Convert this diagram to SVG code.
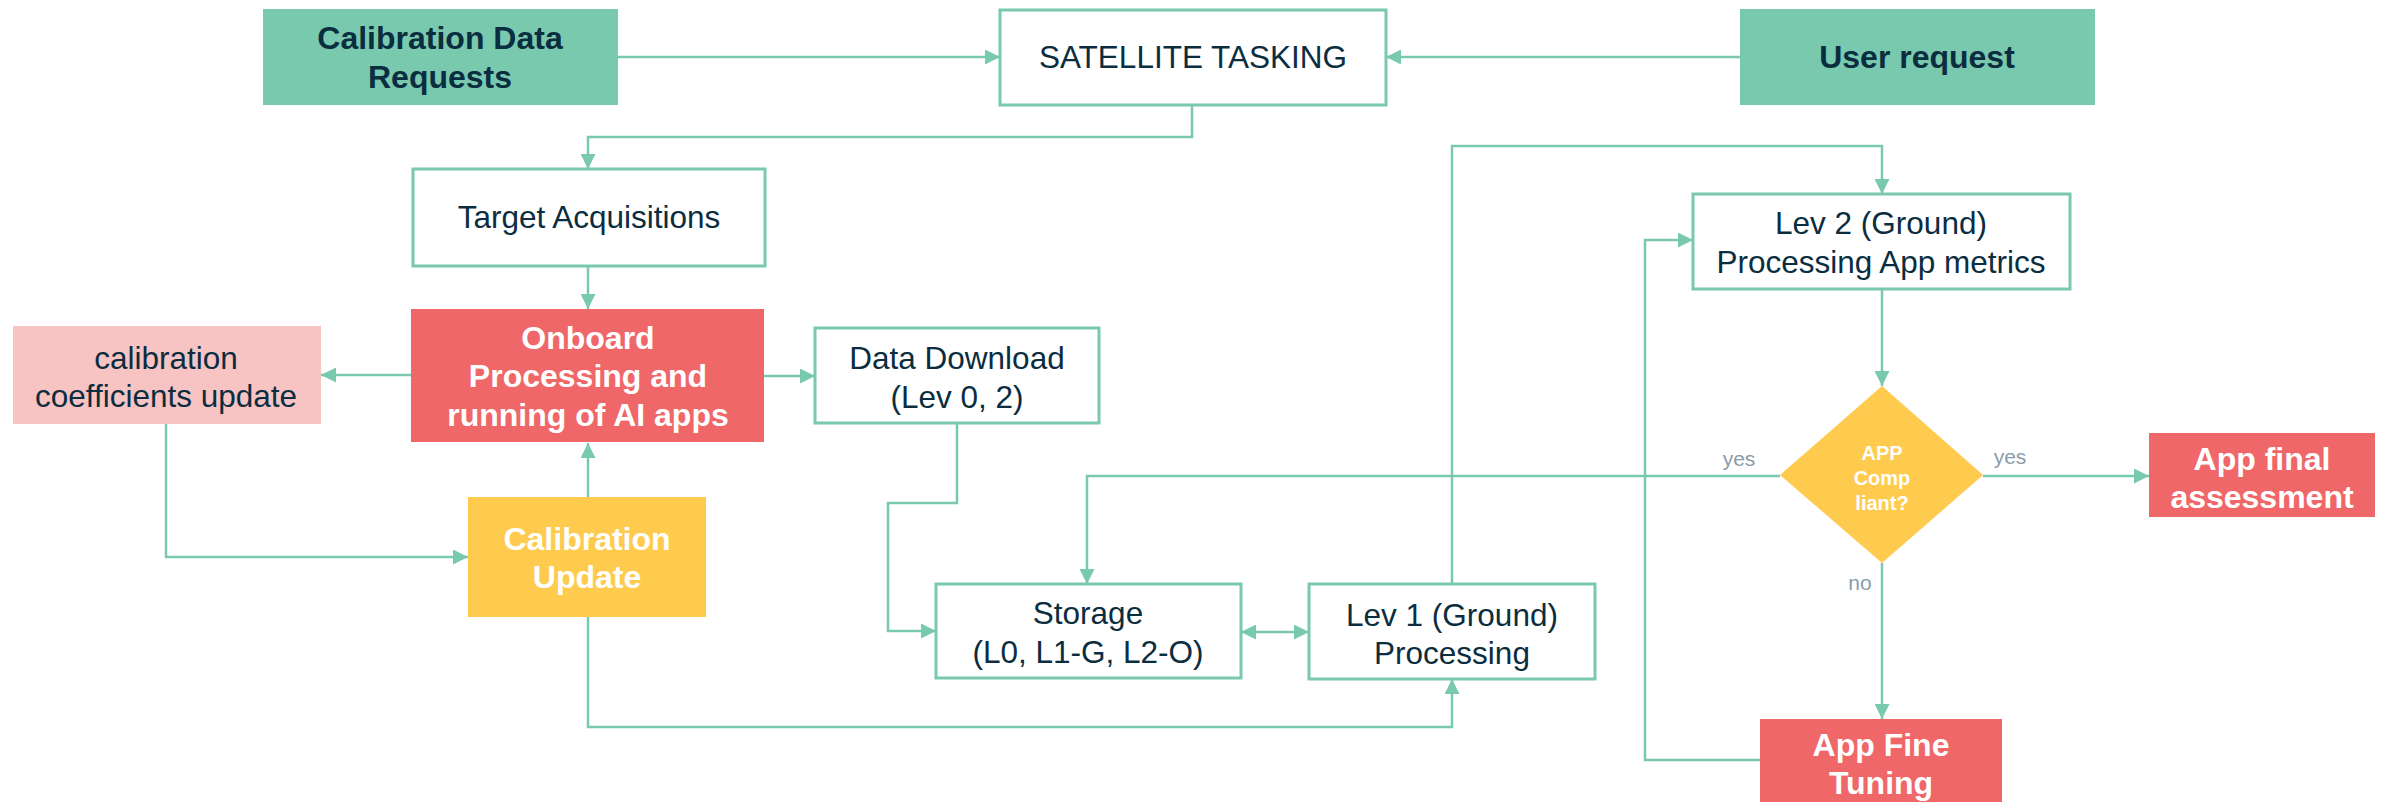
<svg xmlns="http://www.w3.org/2000/svg" width="2385" height="802" viewBox="0 0 2385 802">
<defs>
<marker id="arr" viewBox="0 0 10 10" refX="10" refY="5" markerWidth="15" markerHeight="15" markerUnits="userSpaceOnUse" orient="auto-start-reverse">
<path d="M0,0 L10,5 L0,10 z" fill="#79C9AF"/>
</marker>
<style>
.box{fill:#fff;stroke:#79C9AF;stroke-width:3}
.teal{fill:#79C9AF}
.red{fill:#F06769}
.pink{fill:#F8C3C3}
.yel{fill:#FFCB4E}
.t{font-family:"Liberation Sans",Arial,sans-serif;font-size:31.5px;fill:#0B2D40;text-anchor:middle}
.b{font-weight:bold;font-size:32px}
.w{fill:#fff}
.d{font-family:"Liberation Sans",Arial,sans-serif;font-size:20px;font-weight:bold;fill:#fff;text-anchor:middle}
.lbl{font-family:"Liberation Sans",Arial,sans-serif;font-size:21px;fill:#8A9BAA;text-anchor:middle}
.c{fill:none;stroke:#79C9AF;stroke-width:2.5}
</style>
</defs>
<rect width="2385" height="802" fill="#fff"/>
<g id="connectors">
<path class="c" d="M618,57 H1000" marker-end="url(#arr)"/>
<path class="c" d="M1740,57 H1386" marker-end="url(#arr)"/>
<path class="c" d="M1192,105 V137 H588 V169" marker-end="url(#arr)"/>
<path class="c" d="M588,266 V309" marker-end="url(#arr)"/>
<path class="c" d="M411,375 H321" marker-end="url(#arr)"/>
<path class="c" d="M764,376 H815" marker-end="url(#arr)"/>
<path class="c" d="M588,497 V443" marker-end="url(#arr)"/>
<path class="c" d="M166,424 V557 H468" marker-end="url(#arr)"/>
<path class="c" d="M957,423 V503 H888 V631 H936" marker-end="url(#arr)"/>
<path class="c" d="M1241,632 H1309" marker-start="url(#arr)" marker-end="url(#arr)"/>
<path class="c" d="M588,617 V727 H1452 V679" marker-end="url(#arr)"/>
<path class="c" d="M1452,584 V146 H1882 V194" marker-end="url(#arr)"/>
<path class="c" d="M1882,289 V386" marker-end="url(#arr)"/>
<path class="c" d="M1780,476 H1087 V584" marker-end="url(#arr)"/>
<path class="c" d="M1983,476 H2149" marker-end="url(#arr)"/>
<path class="c" d="M1882,563 V719" marker-end="url(#arr)"/>
<path class="c" d="M1760,760 H1645 V240 H1693" marker-end="url(#arr)"/>
<text class="lbl" x="1739" y="466">yes</text>
<text class="lbl" x="2010" y="464">yes</text>
<text class="lbl" x="1860" y="590">no</text>
</g>
<g id="cal-data-requests">
<rect class="teal" x="263" y="9" width="355" height="96"/>
<text class="t b" x="440" y="49">Calibration Data</text>
<text class="t b" x="440" y="88">Requests</text>
</g>
<g id="satellite-tasking">
<rect class="box" x="1000" y="10" width="386" height="95"/>
<text class="t" x="1193" y="68">SATELLITE TASKING</text>
</g>
<g id="user-request">
<rect class="teal" x="1740" y="9" width="355" height="96"/>
<text class="t b" x="1917" y="68">User request</text>
</g>
<g id="target-acquisitions">
<rect class="box" x="413" y="169" width="352" height="97"/>
<text class="t" x="589" y="228">Target Acquisitions</text>
</g>
<g id="onboard">
<rect class="red" x="411" y="309" width="353" height="133"/>
<text class="t b w" x="588" y="349">Onboard</text>
<text class="t b w" x="588" y="387">Processing and</text>
<text class="t b w" x="588" y="426">running of AI apps</text>
</g>
<g id="cal-coeff-update">
<rect class="pink" x="13" y="326" width="308" height="98"/>
<text class="t" x="166" y="369">calibration</text>
<text class="t" x="166" y="407">coefficients update</text>
</g>
<g id="data-download">
<rect class="box" x="815" y="328" width="284" height="95"/>
<text class="t" x="957" y="369">Data Download</text>
<text class="t" x="957" y="408">(Lev 0, 2)</text>
</g>
<g id="calibration-update">
<rect class="yel" x="468" y="497" width="238" height="120"/>
<text class="t b w" x="587" y="550">Calibration</text>
<text class="t b w" x="587" y="588">Update</text>
</g>
<g id="storage">
<rect class="box" x="936" y="584" width="305" height="94"/>
<text class="t" x="1088" y="624">Storage</text>
<text class="t" x="1088" y="663">(L0, L1-G, L2-O)</text>
</g>
<g id="lev1">
<rect class="box" x="1309" y="584" width="286" height="95"/>
<text class="t" x="1452" y="626">Lev 1 (Ground)</text>
<text class="t" x="1452" y="664">Processing</text>
</g>
<g id="lev2">
<rect class="box" x="1693" y="194" width="377" height="95"/>
<text class="t" x="1881" y="234">Lev 2 (Ground)</text>
<text class="t" x="1881" y="273">Processing App metrics</text>
</g>
<g id="app-compliant">
<path d="M1882,386 L1983,475 L1882,563 L1780,475 z" fill="#FFCB4E"/>
<text class="d" x="1882" y="460">APP</text>
<text class="d" x="1882" y="485">Comp</text>
<text class="d" x="1882" y="510">liant?</text>
</g>
<g id="app-final">
<rect class="red" x="2149" y="433" width="226" height="84"/>
<text class="t b w" x="2262" y="470">App final</text>
<text class="t b w" x="2262" y="508">assessment</text>
</g>
<g id="app-fine-tuning">
<rect class="red" x="1760" y="719" width="242" height="83"/>
<text class="t b w" x="1881" y="756">App Fine</text>
<text class="t b w" x="1881" y="794">Tuning</text>
</g>
</svg>
